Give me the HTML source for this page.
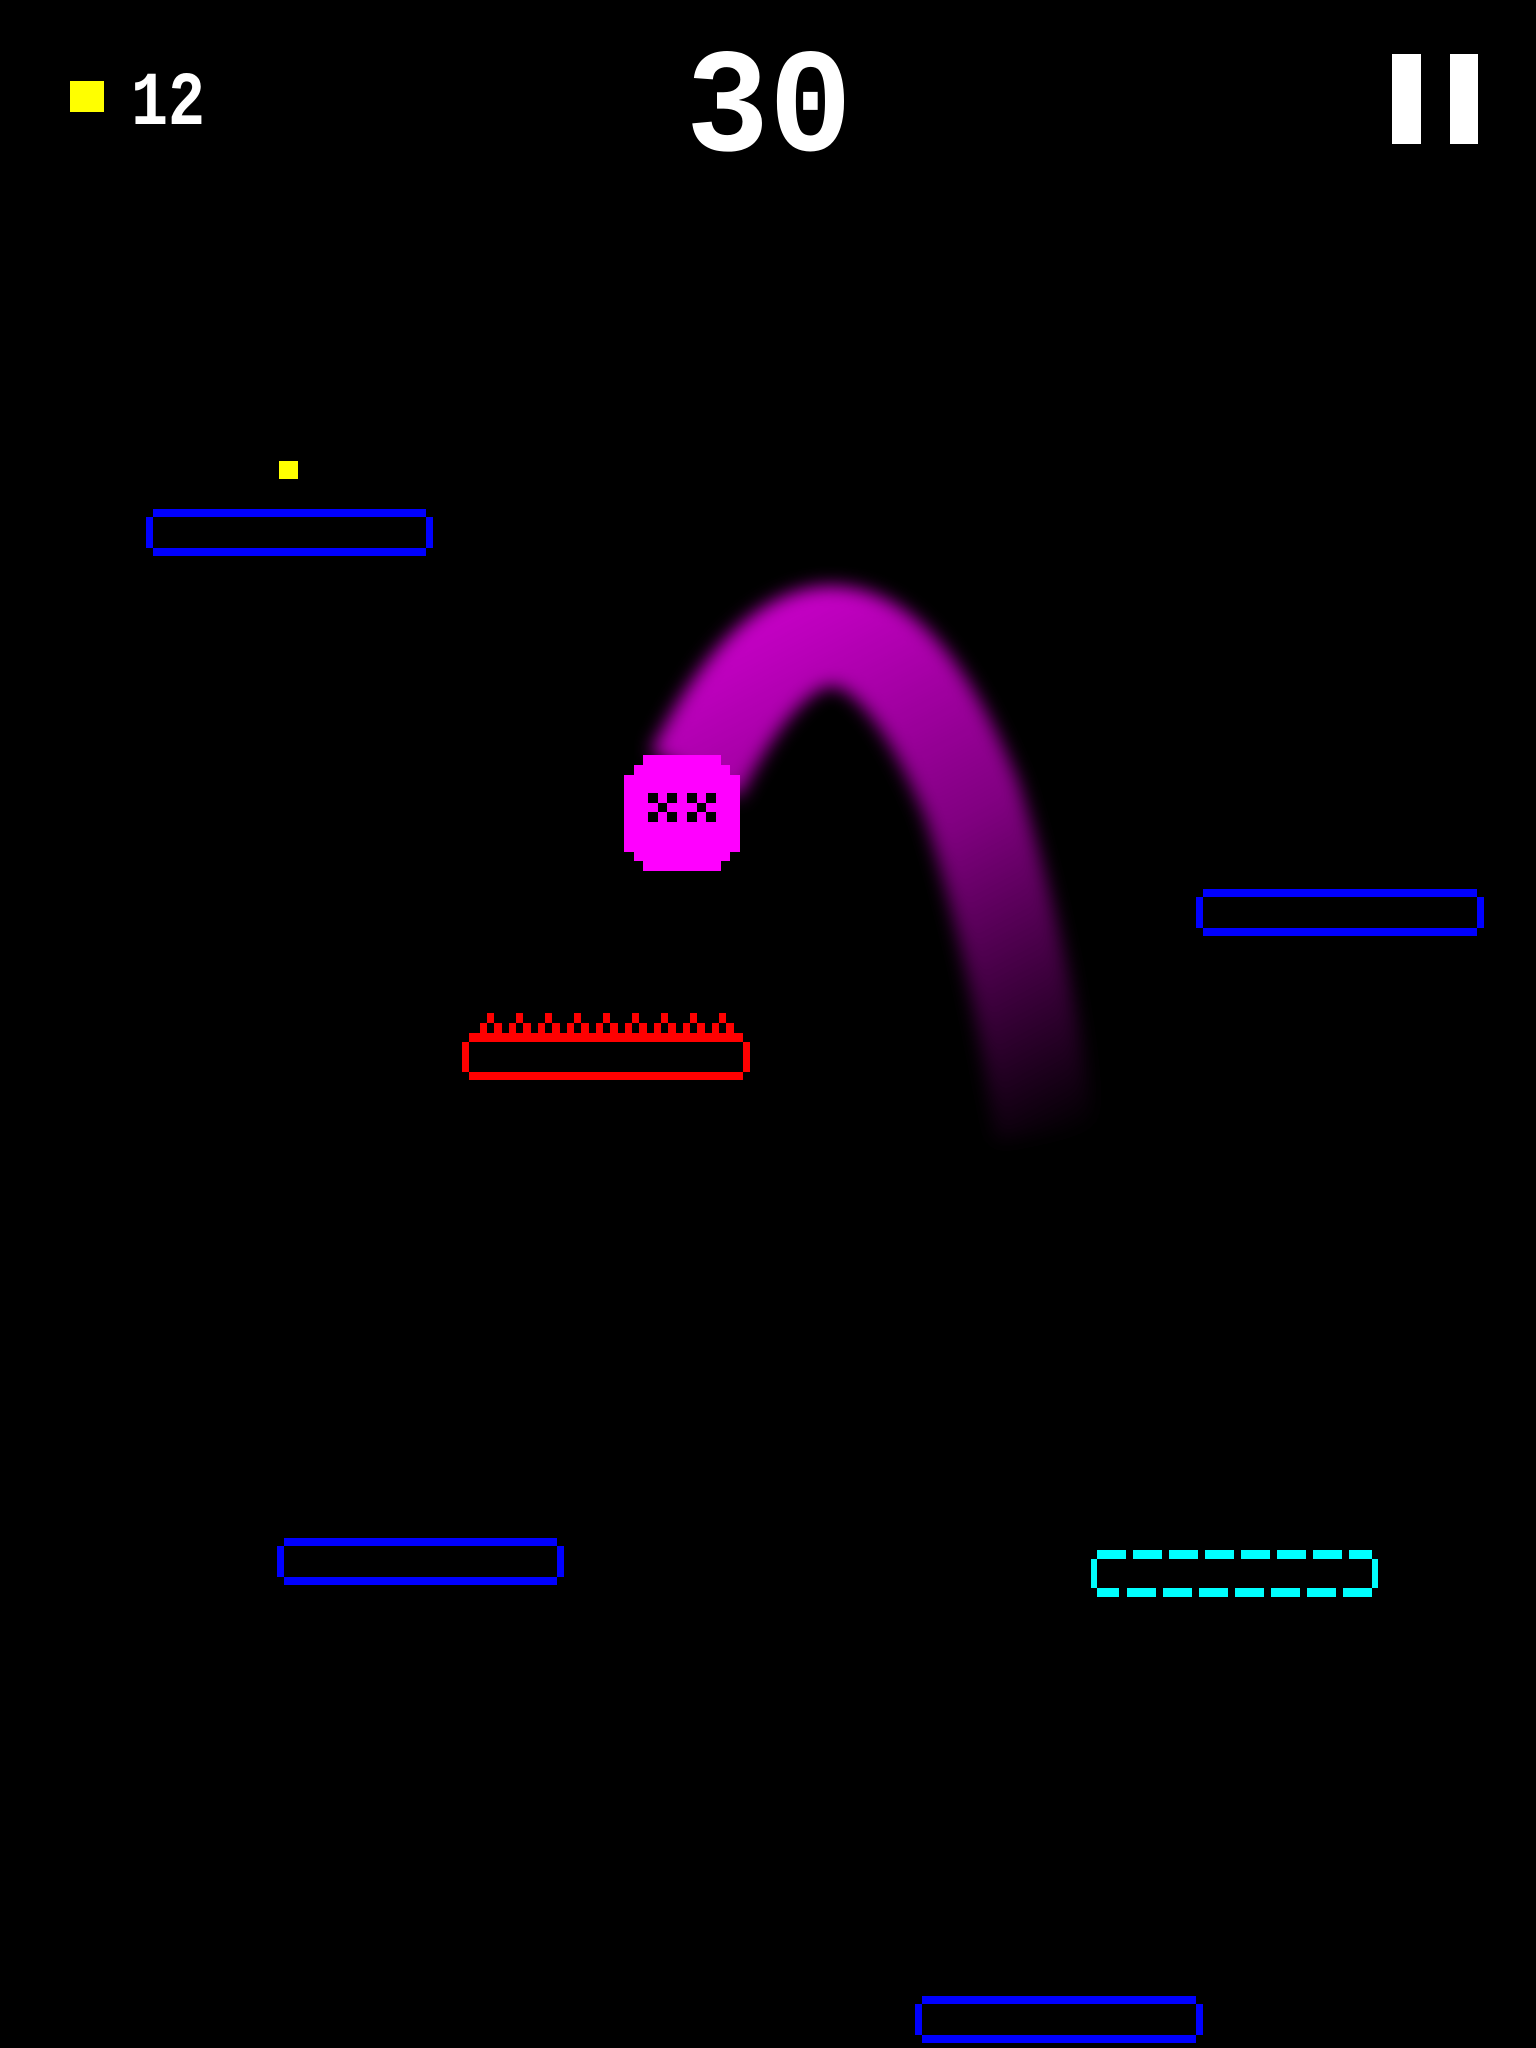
<!DOCTYPE html>
<html><head><meta charset="utf-8"><style>
html,body{margin:0;padding:0;background:#000;}
svg{display:block;}
</style></head><body>
<svg width="1536" height="2048" viewBox="0 0 1536 2048" xmlns="http://www.w3.org/2000/svg" shape-rendering="crispEdges">
<defs>
<linearGradient id="tg" gradientUnits="userSpaceOnUse" x1="770" y1="620" x2="1050" y2="1150">
<stop offset="0" stop-color="#c400c4"/>
<stop offset="0.45" stop-color="#800080"/>
<stop offset="1" stop-color="#800080" stop-opacity="0"/>
</linearGradient>
<filter id="bl" x="-20%" y="-20%" width="140%" height="140%"><feGaussianBlur stdDeviation="9"/></filter>
</defs>
<rect width="1536" height="2048" fill="#000"/>

<!-- HUD -->
<rect x="70" y="81" width="34" height="31" fill="#ffff00"/>
<text x="131" y="124" font-family="Liberation Mono, monospace" font-weight="bold" font-size="76" fill="#fff" textLength="74" lengthAdjust="spacingAndGlyphs">12</text>
<text x="686" y="150" font-family="Liberation Mono, monospace" font-weight="bold" font-size="148" fill="#fff" textLength="166" lengthAdjust="spacingAndGlyphs">30</text>
<rect x="1392" y="54" width="29" height="90" fill="#fff"/>
<rect x="1450" y="54" width="28" height="90" fill="#fff"/>

<!-- coin -->
<rect x="279" y="461" width="19" height="18" fill="#ffff00"/>

<!-- trail -->
<path d="M695 775 Q842 485 972 800 Q1022 960 1045 1135" fill="none" stroke="url(#tg)" stroke-width="100" filter="url(#bl)" shape-rendering="auto"/>

<!-- blue platforms -->
<g fill="#0000ff">
<rect x="153" y="509" width="273" height="8"/><rect x="153" y="548" width="273" height="8"/><rect x="146" y="517" width="7" height="31"/><rect x="426" y="517" width="7" height="31"/>
<rect x="1203" y="889" width="274" height="8"/><rect x="1203" y="928" width="274" height="8"/><rect x="1196" y="897" width="7" height="31"/><rect x="1477" y="897" width="7" height="31"/>
<rect x="284" y="1538" width="273" height="8"/><rect x="284" y="1577" width="273" height="8"/><rect x="277" y="1546" width="7" height="31"/><rect x="557" y="1546" width="7" height="31"/>
<rect x="922" y="1996" width="274" height="8"/><rect x="922" y="2035" width="274" height="8"/><rect x="915" y="2004" width="7" height="31"/><rect x="1196" y="2004" width="7" height="31"/>
</g>

<!-- red spiked platform -->
<g fill="#ff0000">
<rect x="469" y="1033" width="274" height="9"/><rect x="469" y="1072" width="274" height="8"/>
<rect x="462" y="1042" width="7" height="30"/><rect x="743" y="1042" width="7" height="30"/>
<rect x="487" y="1013" width="7" height="10"/><rect x="480" y="1023" width="7" height="10"/><rect x="494" y="1023" width="8" height="10"/>
<rect x="516" y="1013" width="7" height="10"/><rect x="509" y="1023" width="7" height="10"/><rect x="523" y="1023" width="8" height="10"/>
<rect x="545" y="1013" width="7" height="10"/><rect x="538" y="1023" width="7" height="10"/><rect x="552" y="1023" width="8" height="10"/>
<rect x="574" y="1013" width="7" height="10"/><rect x="567" y="1023" width="7" height="10"/><rect x="581" y="1023" width="8" height="10"/>
<rect x="603" y="1013" width="7" height="10"/><rect x="596" y="1023" width="7" height="10"/><rect x="610" y="1023" width="8" height="10"/>
<rect x="632" y="1013" width="7" height="10"/><rect x="625" y="1023" width="7" height="10"/><rect x="639" y="1023" width="8" height="10"/>
<rect x="661" y="1013" width="7" height="10"/><rect x="654" y="1023" width="7" height="10"/><rect x="668" y="1023" width="8" height="10"/>
<rect x="690" y="1013" width="7" height="10"/><rect x="683" y="1023" width="7" height="10"/><rect x="697" y="1023" width="8" height="10"/>
<rect x="719" y="1013" width="7" height="10"/><rect x="712" y="1023" width="7" height="10"/><rect x="726" y="1023" width="8" height="10"/>
</g>

<!-- cyan dashed platform -->
<g fill="#00ffff">
<rect x="1097" y="1550" width="29" height="9"/><rect x="1133" y="1550" width="29" height="9"/><rect x="1169" y="1550" width="29" height="9"/><rect x="1205" y="1550" width="29" height="9"/><rect x="1241" y="1550" width="29" height="9"/><rect x="1277" y="1550" width="29" height="9"/><rect x="1313" y="1550" width="29" height="9"/><rect x="1349" y="1550" width="23" height="9"/>
<rect x="1097" y="1588" width="22" height="9"/><rect x="1127" y="1588" width="29" height="9"/><rect x="1163" y="1588" width="29" height="9"/><rect x="1199" y="1588" width="29" height="9"/><rect x="1235" y="1588" width="29" height="9"/><rect x="1271" y="1588" width="29" height="9"/><rect x="1307" y="1588" width="29" height="9"/><rect x="1343" y="1588" width="29" height="9"/>
<rect x="1091" y="1559" width="6" height="29"/><rect x="1372" y="1559" width="6" height="29"/>
</g>

<!-- ball -->
<g fill="#ff00ff">
<rect x="643" y="755" width="78" height="10"/>
<rect x="634" y="765" width="96" height="10"/>
<rect x="624" y="775" width="116" height="77"/>
<rect x="634" y="852" width="96" height="9"/>
<rect x="643" y="861" width="78" height="10"/>
</g>
<g fill="#000">
<rect x="648" y="793" width="10" height="10"/><rect x="667" y="793" width="10" height="10"/><rect x="658" y="803" width="9" height="9"/><rect x="648" y="812" width="10" height="10"/><rect x="667" y="812" width="10" height="10"/>
<rect x="687" y="793" width="10" height="10"/><rect x="706" y="793" width="10" height="10"/><rect x="697" y="803" width="9" height="9"/><rect x="687" y="812" width="10" height="10"/><rect x="706" y="812" width="10" height="10"/>
</g>
</svg>
</body></html>
